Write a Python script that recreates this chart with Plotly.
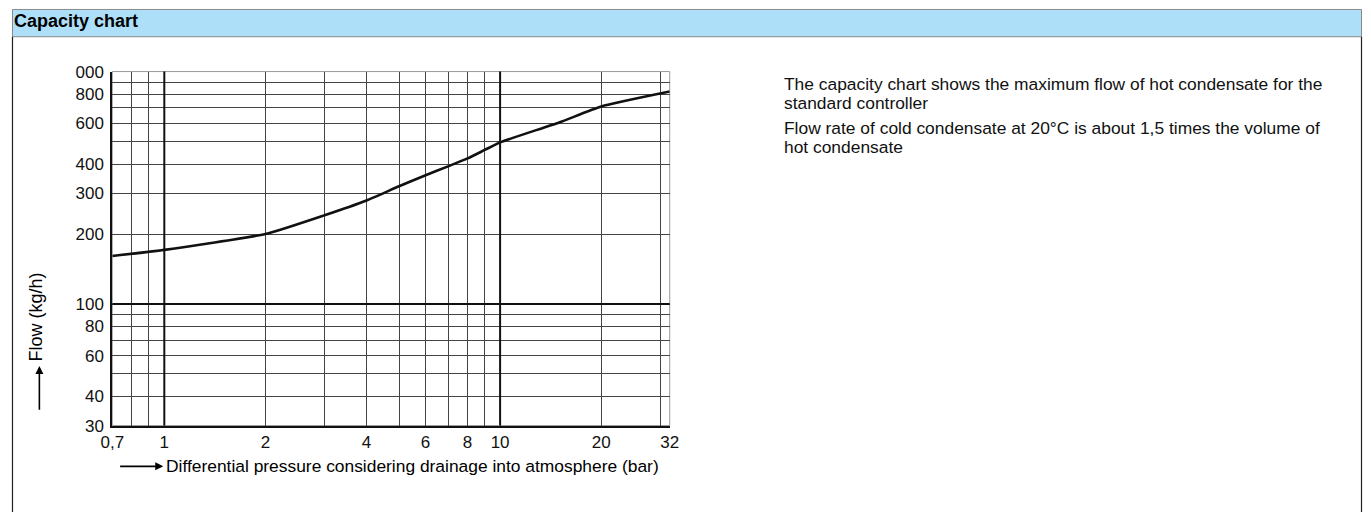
import plotly.graph_objects as go
import math

W, H = 1371, 522

# ---- data ----
pressure_bar = [0.7, 1, 2, 3, 4, 5, 6, 7, 8, 9, 10, 15, 20, 32]
flow_kgh = [161, 171, 200, 241, 279, 321, 358, 391, 423, 460, 496, 604, 707, 820]

x_grid = [0.7, 0.8, 0.9, 1, 2, 3, 4, 5, 6, 7, 8, 9, 10, 20, 30, 32]
x_labels = ['0,7', '', '', '1', '2', '', '4', '', '6', '', '8', '', '10', '20', '', '32']
y_grid = [30, 40, 50, 60, 70, 80, 90, 100, 200, 300, 400, 500, 600, 700, 800, 900, 1000]
y_labels = ['30', '40', '', '60', '', '80', '', '100', '200', '300', '400', '', '600', '', '800', '', '000']
x_decades = [1, 10]
y_decades = [100]

title_text = "Capacity chart"
x_title = "Differential pressure considering drainage into atmosphere (bar)"
y_title = "Flow (kg/h)"
note_lines = [
    "The capacity chart shows the maximum flow of hot condensate for the",
    "standard controller",
    "Flow rate of cold condensate at 20°C is about 1,5 times the volume of",
    "hot condensate",
]
note_line_y = [84, 103, 128, 147]

FONT = "Liberation Sans, Arial, sans-serif"

# calibration: screenshot pixel -> page pixel
SX, CX = 0.9857, 9.6
SY, CY = 0.969, 8.1


def pgx(o):
    return min(max((o - CX) / SX, 0.5), W - 0.5)


def pgy(o):
    return min(max((o - CY) / SY, 0.5), H - 0.5)


def px(o):
    return pgx(o) / W


def py(o):
    return 1 - pgy(o) / H


fig = go.Figure()
fig.add_trace(go.Scatter(x=pressure_bar, y=flow_kgh, mode="lines",
                         line=dict(color="#111", width=2.6, shape="spline", smoothing=0.5),
                         hoverinfo="x+y", showlegend=False))

shapes = []
# page frame + header
shapes.append(dict(type="rect", xref="paper", yref="paper", x0=px(4.5), x1=px(1367), y0=py(36), y1=py(4),
                   fillcolor="#ADE0F8", line=dict(color="#8a8a8a", width=1), layer="below"))
shapes.append(dict(type="line", xref="paper", yref="paper", x0=px(4.5), x1=px(4.5), y0=0, y1=py(36),
                   line=dict(color="#222", width=1.2), layer="below"))
shapes.append(dict(type="line", xref="paper", yref="paper", x0=px(1367), x1=px(1367), y0=0, y1=py(36),
                   line=dict(color="#222", width=1.2), layer="below"))
# plot frame (top/right thin gray)
shapes.append(dict(type="rect", xref="x domain", yref="y domain", x0=0, x1=1, y0=0, y1=1,
                   line=dict(color="#999", width=1), layer="below"))
for xv in x_decades:
    shapes.append(dict(type="line", xref="x", yref="y domain", x0=xv, x1=xv, y0=0, y1=1,
                       line=dict(color="#111", width=2), layer="above"))
for yv in y_decades:
    shapes.append(dict(type="line", xref="x domain", yref="y", x0=0, x1=1, y0=yv, y1=yv,
                       line=dict(color="#111", width=2), layer="above"))

annotations = [
    dict(text="<b>%s</b>" % title_text, xref="paper", yref="paper", x=px(9), y=py(20),
         xanchor="left", yanchor="middle", showarrow=False, font=dict(size=18, color="#000", family=FONT)),
    dict(text=y_title, xref="paper", yref="paper", x=px(34), y=py(318), textangle=-90,
         xanchor="center", yanchor="middle", showarrow=False, font=dict(size=18, color="#000", family=FONT)),
    dict(text="", xref="paper", yref="paper", x=px(37), y=py(367), ax=0, ay=pgy(411) - pgy(367),
         showarrow=True, arrowhead=2, arrowsize=1, arrowwidth=1.6, arrowcolor="#000"),
    dict(text=x_title, xref="paper", yref="paper", x=px(162), y=py(468),
         xanchor="left", yanchor="middle", showarrow=False, font=dict(size=17.4, color="#000", family=FONT)),
    dict(text="", xref="paper", yref="paper", x=px(161), y=py(468), ax=pgx(117) - pgx(161), ay=0,
         showarrow=True, arrowhead=2, arrowsize=1, arrowwidth=1.6, arrowcolor="#000"),
]
for line, ly in zip(note_lines, note_line_y):
    annotations.append(dict(text=line, xref="paper", yref="paper", x=px(780), y=py(ly), align="left",
                            xanchor="left", yanchor="middle", showarrow=False,
                            font=dict(size=17.4, color="#111", family=FONT)))

fig.update_layout(
    width=W, height=H, margin=dict(l=0, r=0, t=0, b=0),
    paper_bgcolor="white", plot_bgcolor="white",
    shapes=shapes, annotations=annotations, showlegend=False,
    font=dict(family=FONT, color="#111", size=17),
    xaxis=dict(type="log", range=[math.log10(0.7), math.log10(32)],
               domain=[px(110), px(668)],
               tickvals=x_grid, ticktext=x_labels, showgrid=True,
               gridcolor="#444", gridwidth=1.4, showline=True, linecolor="#111", linewidth=2,
               ticks="", zeroline=False, tickfont=dict(size=17, color="#111", family=FONT),
               fixedrange=True),
    yaxis=dict(type="log", range=[math.log10(30), math.log10(1000)],
               domain=[py(427), py(71)],
               tickvals=y_grid, ticktext=y_labels, showgrid=True,
               gridcolor="#444", gridwidth=1.4, showline=True, linecolor="#111", linewidth=2,
               ticks="", zeroline=False, tickfont=dict(size=17, color="#111", family=FONT),
               ticklabelstandoff=3, fixedrange=True),
)

fig.write_html("out.html", config={"displayModeBar": False},
               post_script="document.body.style.margin='0';document.body.style.overflow='hidden';")
